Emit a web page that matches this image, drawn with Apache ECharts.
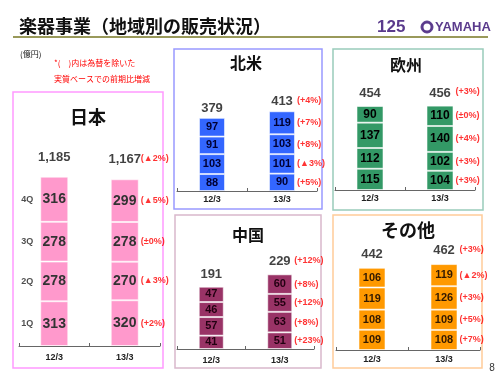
<!DOCTYPE html>
<html>
<head>
<meta charset="utf-8">
<script src="https://cdn.jsdelivr.net/npm/echarts@6/dist/echarts.min.js"></script>
<style>
  html, body { margin: 0; padding: 0; background: #fff; }
  #main { width: 500px; height: 375px; }
</style>
</head>
<body>
<div id="main"></div>
<script>
// periods on the x axis, quarters stacked bottom (1Q) to top (4Q)
var periods = ['12/3', '13/3'];
var quarters = ['1Q', '2Q', '3Q', '4Q'];

// 日本
var jp12 = [313, 278, 278, 316];
var jp13 = [320, 270, 278, 299];
var jpTotals = [1185, 1167];
var jpPct = ['(+2%)', '(▲3%)', '(±0%)', '(▲5%)'];
var jpTotalPct = '(▲2%)';

// 北米
var na12 = [88, 103, 91, 97];
var na13 = [90, 101, 103, 119];
var naTotals = [379, 413];
var naPct = ['(+5%)', '(▲3%)', '(+8%)', '(+7%)'];
var naTotalPct = '(+4%)';

// 欧州
var eu12 = [115, 112, 137, 90];
var eu13 = [104, 102, 140, 110];
var euTotals = [454, 456];
var euPct = ['(+3%)', '(+3%)', '(+4%)', '(±0%)'];
var euTotalPct = '(+3%)';

// 中国
var cn12 = [41, 57, 46, 47];
var cn13 = [51, 63, 55, 60];
var cnTotals = [191, 229];
var cnPct = ['(+23%)', '(+8%)', '(+12%)', '(+8%)'];
var cnTotalPct = '(+12%)';

// その他
var ot12 = [109, 108, 119, 106];
var ot13 = [108, 109, 126, 119];
var otTotals = [442, 462];
var otPct = ['(+7%)', '(+5%)', '(+3%)', '(▲2%)'];
var otTotalPct = '(+3%)';

var panels = [
  { name: '日本', a: jp12, b: jp13, tot: jpTotals, pct: jpPct, totPct: jpTotalPct,
    grid: { left: 19, right: 340, top: 146, bottom: 29 }, max: 1400,
    color: '#ff99cc', txt: '#333333', bw: 28, fs: 14, totDist: 13, lblMargin: 7, showQ: true,
    box: [13, 92, 150, 276], boxColor: '#ff99ff', title: [88, 117, 18] },
  { name: '北米', a: na12, b: na13, tot: naTotals, pct: naPct, totPct: naTotalPct,
    grid: { left: 177, right: 183, top: 94.5, bottom: 184 }, max: 500,
    color: '#3366ff', txt: '#000033', bw: 26, fs: 11, totDist: 3, lblMargin: 4,
    box: [174, 49, 148, 160], boxColor: '#9999ff', title: [246, 63, 16] },
  { name: '欧州', a: eu12, b: eu13, tot: euTotals, pct: euPct, totPct: euTotalPct,
    grid: { left: 335, right: 25, top: 97.5, bottom: 185 }, max: 500,
    color: '#339966', txt: '#000000', bw: 27, fs: 12, totDist: 6, lblMargin: 4,
    box: [333, 49, 150, 161], boxColor: '#99ccbb', title: [406, 65, 16] },
  { name: '中国', a: cn12, b: cn13, tot: cnTotals, pct: cnPct, totPct: cnTotalPct,
    grid: { left: 177, right: 186, top: 267.5, bottom: 26 }, max: 250,
    color: '#993366', txt: '#220011', bw: 25, fs: 11, totDist: 6, lblMargin: 7,
    box: [175, 215, 146, 153], boxColor: '#d9b8cc', title: [248, 235, 16] },
  { name: 'その他', a: ot12, b: ot13, tot: otTotals, pct: otPct, totPct: otTotalPct,
    grid: { left: 336, right: 20, top: 257, bottom: 25 }, max: 500,
    color: '#ff9900', txt: '#331a00', bw: 27, fs: 11, totDist: 7, lblMargin: 5,
    box: [333, 215, 149, 153], boxColor: '#ffcc99', title: [408, 230, 18] }
];

var grids = [], xAxes = [], yAxes = [], series = [];
var graphics = [];

panels.forEach(function (p, i) {
  grids.push(p.grid);
  xAxes.push({
    type: 'category', gridIndex: i, data: periods,
    axisLine: { lineStyle: { color: '#666666', width: 1 } },
    axisTick: { show: true, inside: true, length: 3, lineStyle: { color: '#666666' } },
    axisLabel: { color: '#222', fontSize: 9, margin: p.lblMargin, fontFamily: 'Liberation Sans', fontWeight: 'bold' }
  });
  yAxes.push({ type: 'value', gridIndex: i, min: 0, max: p.max, show: false, splitLine: { show: false } });

  quarters.forEach(function (q, k) {
    series.push({
      type: 'bar', name: q, xAxisIndex: i, yAxisIndex: i, stack: 'st' + i, barWidth: p.bw,
      data: [p.a[k], p.b[k]],
      itemStyle: { color: p.color, borderColor: 'rgba(255,255,255,0.55)', borderWidth: 1 },
      label: { show: true, position: 'inside', color: p.txt, fontSize: p.fs, fontWeight: 'bold', fontFamily: 'Liberation Sans' }
    });
  });

  // totals above the bars
  series.push({
    type: 'scatter', xAxisIndex: i, yAxisIndex: i, symbolSize: 0, silent: true,
    data: [[0, p.tot[0]], [1, p.tot[1]]],
    label: {
      show: true, position: 'top', distance: p.totDist, color: '#111', fontSize: 13,
      fontFamily: 'Liberation Sans', fontWeight: 'bold',
      formatter: function (d) { return d.value[1].toLocaleString('en-US'); }
    }
  });

  // red change labels right of the 13/3 bar
  var cum = 0, pctData = [];
  p.b.forEach(function (v, k) {
    pctData.push({ value: [1, cum + v / 2], txt: p.pct[k] });
    cum += v;
  });
  pctData.push({ value: [1, p.tot[1]], txt: p.totPct, label: { offset: [0, -(p.totDist + 8)] } });
  series.push({
    type: 'scatter', xAxisIndex: i, yAxisIndex: i, symbolSize: 0, silent: true,
    data: pctData,
    label: {
      show: true, position: 'right', distance: p.bw / 2 + 2, color: '#ff0000', fontSize: 9,
      fontFamily: 'Liberation Sans', fontWeight: 'bold',
      formatter: function (d) { return d.data.txt; }
    }
  });

  if (p.showQ) {
    var c2 = 0, qData = [];
    p.a.forEach(function (v, k) {
      qData.push({ value: [0, c2 + v / 2], txt: quarters[k] });
      c2 += v;
    });
    series.push({
      type: 'scatter', xAxisIndex: i, yAxisIndex: i, symbolSize: 0, silent: true,
      data: qData,
      label: {
        show: true, position: 'left', distance: 21, color: '#222', fontSize: 9,
        fontFamily: 'Liberation Sans', fontWeight: 'bold',
        formatter: function (d) { return d.data.txt; }
      }
    });
  }

  graphics.push({
    type: 'rect', z: 0,
    shape: { x: p.box[0], y: p.box[1], width: p.box[2], height: p.box[3] },
    style: { fill: 'none', stroke: p.boxColor, lineWidth: 1.5 }
  });
  graphics.push({
    type: 'text', x: p.title[0], y: p.title[1],
    style: { text: p.name, fill: '#111', font: 'bold ' + p.title[2] + 'px "Noto Sans CJK JP"', textAlign: 'center', textVerticalAlign: 'middle' }
  });
});

// header
graphics.push(
  { type: 'text', x: 19, y: 26, style: { text: '楽器事業（地域別の販売状況）', fill: '#111', font: 'bold 18px "Noto Sans CJK JP"', textVerticalAlign: 'middle' } },
  { type: 'line', shape: { x1: 13, y1: 37, x2: 488, y2: 37 }, style: { stroke: '#99995a', lineWidth: 2 } },
  { type: 'text', x: 377, y: 27, style: { text: '125', fill: '#5a3a8c', font: 'bold 17px "Liberation Sans"', textVerticalAlign: 'middle' } },
  { type: 'circle', shape: { cx: 427, cy: 27, r: 6 }, style: { fill: '#5a3a8c', stroke: '#5a3a8c' } },
  { type: 'circle', shape: { cx: 427, cy: 27, r: 3.5 }, style: { fill: '#ffffff' } },
  { type: 'text', x: 435, y: 27, style: { text: 'YAMAHA', fill: '#5a3a8c', font: 'bold 13px "Liberation Sans"', textVerticalAlign: 'middle' } },
  { type: 'text', x: 20, y: 54, style: { text: '(億円)', fill: '#111', font: '8px "Noto Sans CJK JP"', textVerticalAlign: 'middle' } },
  { type: 'text', x: 54, y: 63, style: { text: '*(　)内は為替を除いた', fill: '#ff0000', font: '8px "Noto Sans CJK JP"', textVerticalAlign: 'middle' } },
  { type: 'text', x: 54, y: 79, style: { text: '実質ベースでの前期比増減', fill: '#ff0000', font: '8px "Noto Sans CJK JP"', textVerticalAlign: 'middle' } },
  { type: 'text', x: 492, y: 368, style: { text: '8', fill: '#333', font: '10px "Liberation Sans"', textAlign: 'center', textVerticalAlign: 'middle' } }
);

var chart = echarts.init(document.getElementById('main'));
chart.setOption({
  backgroundColor: '#ffffff',
  animation: false,
  grid: grids,
  xAxis: xAxes,
  yAxis: yAxes,
  series: series,
  graphic: graphics
});
</script>
</body>
</html>
